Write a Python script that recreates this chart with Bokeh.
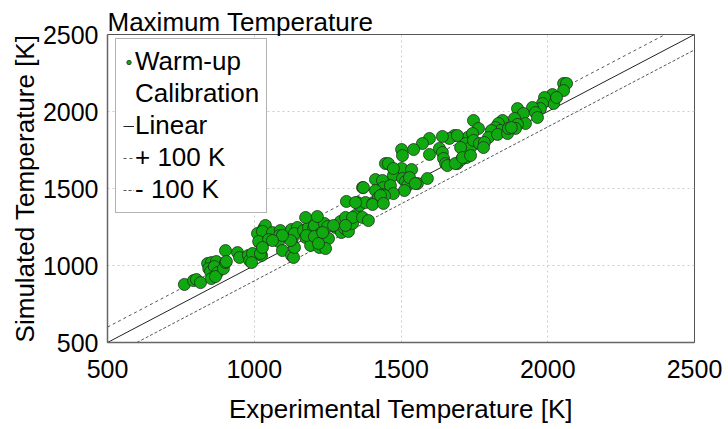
from bokeh.plotting import figure
from bokeh.models import Range1d, FixedTicker, Legend, LegendItem
from bokeh.embed import file_html
from bokeh.resources import INLINE

# ---- data ----
exp_temp = [
    762, 793, 803, 817, 841, 854, 871, 845, 851, 864, 875, 854, 868, 895, 902, 902,
    943, 950, 980, 984, 994, 991, 1011, 1018, 1025, 1032, 1038, 1028, 1015, 1021,
    1062, 1089, 1086, 1049, 1083, 1127, 1147, 1130, 1137, 1168, 1175, 1185, 1202, 1205,
    1226, 1239, 1250, 1253, 1277, 1294, 1297, 1311, 1308, 1321, 1335, 1345, 1335, 1369,
    1389, 1175, 1215, 1192, 1222, 1243, 1096, 1127, 1134, 1137, 1369, 1314, 1352, 1359,
    1379, 1124, 1096, 1270, 1311,
    1727, 1682, 1665, 1641, 1597, 1573, 1543, 1502, 1505, 1597, 1631, 1641, 1645, 1652,
    1658, 1692, 1706, 1723, 1447, 1457, 1502, 1536, 1474, 1505, 1413, 1437, 1440, 1413,
    1464, 1515, 1522, 1556, 1590, 1512, 1474, 1437, 1372, 1406, 1423, 1444, 1685,
    2054, 2064, 2054, 2016, 2020, 1989, 1982, 1975, 1948, 1958, 1965, 1897, 1917, 1887,
    1924, 1897, 1890, 1846, 1832, 1822, 1839, 1808, 1798, 1829, 1863, 1866, 1747, 1764,
    1744, 1720, 1737, 1747, 1767, 1784, 1781, 1692, 1703, 1710, 1876, 2030,
    1345, 1403, 1474, 1529, 1549, 1430, 1440, 905, 1178, 1205, 1219, 1233, 1028, 1062,
    1737,
]
sim_temp = [
    877, 902, 909, 889, 1013, 1019, 1026, 980, 961, 993, 954, 915, 928, 980, 1019, 1097,
    1084, 1052, 1065, 1032, 1078, 1019, 1208, 1149, 1065, 1240, 1260, 1221, 1156, 1078,
    1214, 1227, 1195, 1169, 1156, 1234, 1247, 1175, 1208, 1227, 1182, 1247, 1240, 1260,
    1208, 1273, 1253, 1175, 1247, 1286, 1214, 1312, 1240, 1221, 1273, 1325, 1312, 1312,
    1292, 1312, 1318, 1130, 1117, 1110, 1097, 1065, 1052, 1117, 1506, 1416, 1409, 1390,
    1409, 1162, 1195, 1260, 1260,
    1831, 1844, 1825, 1838, 1825, 1792, 1753, 1753, 1714, 1721, 1760, 1734, 1695, 1662,
    1649, 1662, 1688, 1701, 1662, 1662, 1630, 1623, 1584, 1565, 1558, 1552, 1506, 1487,
    1519, 1545, 1519, 1532, 1565, 1487, 1467, 1461, 1506, 1409, 1441, 1454, 1662,
    2182, 2182, 2136, 2110, 2052, 2091, 2052, 2019, 2026, 1993, 1961, 2019, 1987, 1955,
    1922, 1916, 1890, 1942, 1922, 1896, 1877, 1877, 1831, 1851, 1857, 1890, 1942, 1890,
    1857, 1792, 1766, 1812, 1792, 1799, 1766, 1844, 1766, 1701, 1896, 2091,
    1409, 1396, 1630, 1571, 1532, 1454, 1403, 1026, 1195, 1188, 1143, 1214, 1117, 1162,
    1714,
]
axis_ticks = [500, 1000, 1500, 2000, 2500]
axis_min, axis_max = 500, 2500
band = 100  # K

font = "Liberation Sans"

p = figure(width=728, height=429, output_backend="svg", toolbar_location=None,
           x_range=Range1d(axis_min, axis_max), y_range=Range1d(axis_min, axis_max),
           min_border_left=107, min_border_right=34, min_border_top=34,
           min_border_bottom=87)
p.background_fill_color = "white"
p.border_fill_color = "white"
p.outline_line_color = "#555555"
p.outline_line_width = 1

p.title.text = "Maximum Temperature"
p.title.text_font = font
p.title.text_font_size = "26px"
p.title.text_font_style = "normal"
p.title.text_color = "black"
p.title.align = "left"
p.title.standoff = -5
p.title.offset = 0

for ax in (p.xaxis[0], p.yaxis[0]):
    ax.ticker = FixedTicker(ticks=axis_ticks)
    ax.major_label_text_font = font
    ax.major_label_text_font_size = "25px"
    ax.major_label_text_color = "black"
    ax.axis_label_text_font = font
    ax.axis_label_text_font_size = "26px"
    ax.axis_label_text_font_style = "normal"
    ax.axis_label_text_color = "black"
    ax.major_tick_line_color = None
    ax.minor_tick_line_color = None
    ax.axis_line_color = "#666666"
    ax.axis_line_width = 1.5

p.xaxis.axis_label = "Experimental Temperature [K]"
p.yaxis.axis_label = "Simulated Temperature [K]"
p.xaxis.major_label_standoff = 11
p.xaxis.axis_label_standoff = 13
p.yaxis.major_label_standoff = 3
p.yaxis.axis_label_standoff = 0

for g in (p.xgrid[0], p.ygrid[0]):
    g.grid_line_color = "#cccccc"
    g.grid_line_dash = "2 3"
    g.grid_line_width = 1

# reference lines
r_lin = p.line([axis_min, axis_max], [axis_min, axis_max], line_color="#222222", line_width=1)
r_up = p.line([axis_min, axis_max - band], [axis_min + band, axis_max],
              line_color="#555555", line_width=1, line_dash="3 3")
r_dn = p.line([axis_min + band, axis_max], [axis_min, axis_max - band],
              line_color="#555555", line_width=1, line_dash="3 2")

r_pts = p.scatter(exp_temp, sim_temp, size=12, fill_color="#10aa10",
                  line_color="#1e2e1e", line_width=0.8)
r_blank = p.scatter([], [], size=1, fill_alpha=0, line_alpha=0)

legend = Legend(items=[
    LegendItem(label="Warm-up", renderers=[r_pts]),
    LegendItem(label="Calibration", renderers=[r_blank]),
    LegendItem(label="Linear", renderers=[r_lin]),
    LegendItem(label="+ 100 K", renderers=[r_up]),
    LegendItem(label="- 100 K", renderers=[r_dn]),
], location=(8, 129))
legend.label_text_font = font
legend.label_text_font_size = "26px"
legend.label_text_color = "black"
legend.label_height = 29
legend.glyph_width = 11
legend.glyph_height = 20
legend.label_standoff = 1
legend.spacing = 1
legend.padding = 7
legend.margin = 0
legend.border_line_color = "#666666"
legend.border_line_width = 1
legend.background_fill_alpha = 1
p.add_layout(legend, "center")

open("out.html", "w").write(file_html(p, INLINE))
